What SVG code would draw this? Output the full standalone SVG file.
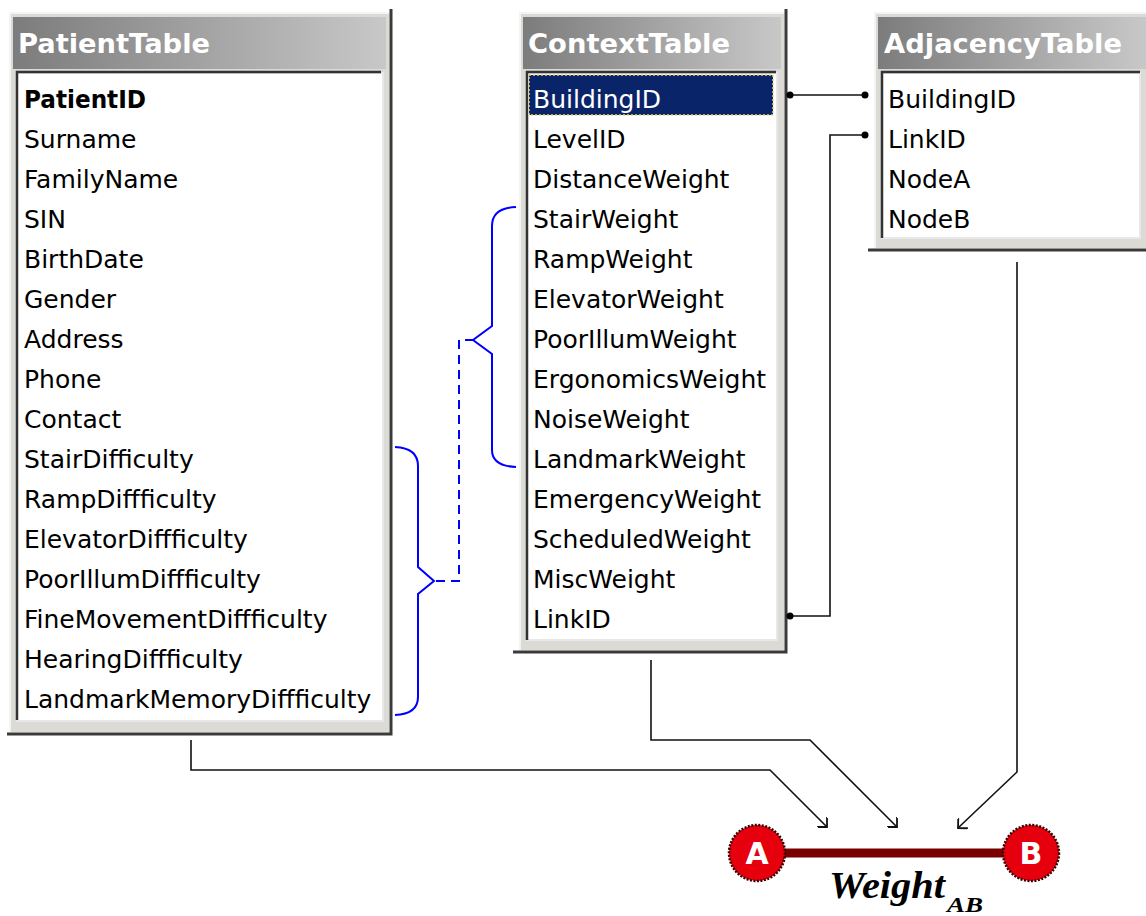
<svg xmlns="http://www.w3.org/2000/svg" width="1146" height="916" viewBox="0 0 1146 916">
<defs>
<linearGradient id="tg" x1="0" y1="0" x2="1" y2="0">
<stop offset="0" stop-color="#7c7c7c"/>
<stop offset="1" stop-color="#c8c8c8"/>
</linearGradient>
<marker id="ah" viewBox="0 0 14 14" refX="8" refY="7" markerWidth="14" markerHeight="14" markerUnits="userSpaceOnUse" orient="auto">
<path d="M1,0 L8,7 L1,14" fill="none" stroke="#111" stroke-width="1.8"/>
</marker>
<marker id="dot" viewBox="0 0 8 8" refX="4" refY="4" markerWidth="8" markerHeight="8" markerUnits="userSpaceOnUse">
<circle cx="4" cy="4" r="3.5" fill="#000"/>
</marker>
</defs>
<style>
.frame{fill:#dcdad4;stroke:#f4f4f4;stroke-width:2}
.shadow{stroke:#3a3a3a;stroke-width:3;fill:none}
.title{fill:url(#tg)}
.ttext{font-family:"DejaVu Sans",sans-serif;font-weight:bold;font-size:27px;fill:#fff}
.panel{fill:#fff;stroke:#e8e8e8;stroke-width:2}
.pedge{stroke:#333;stroke-width:2.5;fill:none}
.row{font-family:"DejaVu Sans",sans-serif;font-size:25px;fill:#000}
.conn{fill:none;stroke:#111;stroke-width:1.6}
.brace{fill:none;stroke:#0000ff;stroke-width:2}
</style>
<rect width="1146" height="916" fill="#fff"/>

<g id="PatientTable">
<rect class="frame" x="10" y="13" width="380" height="720"/>
<rect class="title" x="13" y="17" width="373" height="52"/>
<text class="ttext" x="18" y="53" textLength="192" lengthAdjust="spacingAndGlyphs">PatientTable</text>
<rect class="panel" x="17" y="73" width="366" height="648"/>
<path class="pedge" d="M17,720 V72 H381"/>
<path class="shadow" d="M391,9 V734 H7"/>
<g class="row">
<text x="24" y="108" font-weight="bold" textLength="122" lengthAdjust="spacingAndGlyphs">PatientID</text>
<text x="24" y="148">Surname</text>
<text x="24" y="188">FamilyName</text>
<text x="24" y="228">SIN</text>
<text x="24" y="268">BirthDate</text>
<text x="24" y="308">Gender</text>
<text x="24" y="348">Address</text>
<text x="24" y="388">Phone</text>
<text x="24" y="428">Contact</text>
<text x="24" y="468">StairDifficulty</text>
<text x="24" y="508">RampDiffficulty</text>
<text x="24" y="548">ElevatorDiffficulty</text>
<text x="24" y="588">PoorIllumDiffficulty</text>
<text x="24" y="628">FineMovementDiffficulty</text>
<text x="24" y="668">HearingDiffficulty</text>
<text x="24" y="708">LandmarkMemoryDiffficulty</text>
</g>
</g>

<g id="ContextTable">
<rect class="frame" x="520" y="13" width="265" height="638"/>
<rect class="title" x="523" y="17" width="258" height="52"/>
<text class="ttext" x="528" y="53" textLength="202" lengthAdjust="spacingAndGlyphs">ContextTable</text>
<rect class="panel" x="527" y="73" width="250" height="567"/>
<path class="pedge" d="M527,640 V72 H776"/>
<path class="shadow" d="M786,9 V652 H513"/>
<rect x="529" y="75" width="244" height="40" fill="#0a246a" stroke="#e8d870" stroke-width="1.5" stroke-dasharray="2 2"/>
<g class="row">
<text x="533" y="108" fill="#fff">BuildingID</text>
<text x="533" y="148">LevelID</text>
<text x="533" y="188">DistanceWeight</text>
<text x="533" y="228">StairWeight</text>
<text x="533" y="268">RampWeight</text>
<text x="533" y="308">ElevatorWeight</text>
<text x="533" y="348">PoorIllumWeight</text>
<text x="533" y="388">ErgonomicsWeight</text>
<text x="533" y="428">NoiseWeight</text>
<text x="533" y="468">LandmarkWeight</text>
<text x="533" y="508">EmergencyWeight</text>
<text x="533" y="548">ScheduledWeight</text>
<text x="533" y="588">MiscWeight</text>
<text x="533" y="628">LinkID</text>
</g>
</g>

<g id="AdjacencyTable">
<rect class="frame" x="875" y="13" width="275" height="236"/>
<rect class="title" x="878" y="17" width="268" height="52"/>
<text class="ttext" x="884" y="53" textLength="238" lengthAdjust="spacingAndGlyphs">AdjacencyTable</text>
<rect class="panel" x="882" y="73" width="258" height="165"/>
<path class="pedge" d="M882,238 V72 H1140"/>
<path class="shadow" d="M1146,250 H868"/>
<g class="row">
<text x="888" y="108">BuildingID</text>
<text x="888" y="148">LinkID</text>
<text x="888" y="188">NodeA</text>
<text x="888" y="228">NodeB</text>
</g>
</g>

<g id="connectors">
<path class="conn" d="M790,95 H865" marker-start="url(#dot)" marker-end="url(#dot)"/>
<path class="conn" d="M790,616 H830 V135 H865" marker-start="url(#dot)" marker-end="url(#dot)"/>
<path class="conn" d="M191,740 V770 H770 L827,827" marker-end="url(#ah)"/>
<path class="conn" d="M651,660 V740 H810 L897,827" marker-end="url(#ah)"/>
<path class="conn" d="M1017,262 V772 L958,828" marker-end="url(#ah)"/>
<path class="brace" d="M395,447 Q418,448 418,466 V567 L434,581 L418,594 V697 Q418,714 395,715"/>
<path class="brace" d="M516,207 Q492,208 492,226 V326 L473,340 L492,354 V450 Q492,466 516,467"/>
<path class="brace" d="M436,581 H459 V340 H473" stroke-dasharray="9 6"/>
</g>

<g id="edgeAB">
<line x1="757" y1="853" x2="1031" y2="853" stroke="#7a0000" stroke-width="9"/>
<text x="829" y="898" font-family="Liberation Serif, serif" font-weight="bold" font-style="italic" font-size="38" textLength="116" lengthAdjust="spacingAndGlyphs" fill="#000">Weight</text>
<text x="947" y="912" font-family="Liberation Serif, serif" font-weight="bold" font-style="italic" font-size="21" textLength="36" lengthAdjust="spacingAndGlyphs" fill="#000">AB</text>
</g>
<g id="nodeA">
<circle cx="757" cy="853" r="28" fill="#e6000e" stroke="#300" stroke-width="2.5" stroke-dasharray="2 1.5"/>
<text x="757" y="864" text-anchor="middle" font-family="DejaVu Sans, sans-serif" font-weight="bold" font-size="30" fill="#fff">A</text>
</g>
<g id="nodeB">
<circle cx="1031" cy="853" r="28" fill="#e6000e" stroke="#300" stroke-width="2.5" stroke-dasharray="2 1.5"/>
<text x="1031" y="864" text-anchor="middle" font-family="DejaVu Sans, sans-serif" font-weight="bold" font-size="30" fill="#fff">B</text>
</g>
</svg>
